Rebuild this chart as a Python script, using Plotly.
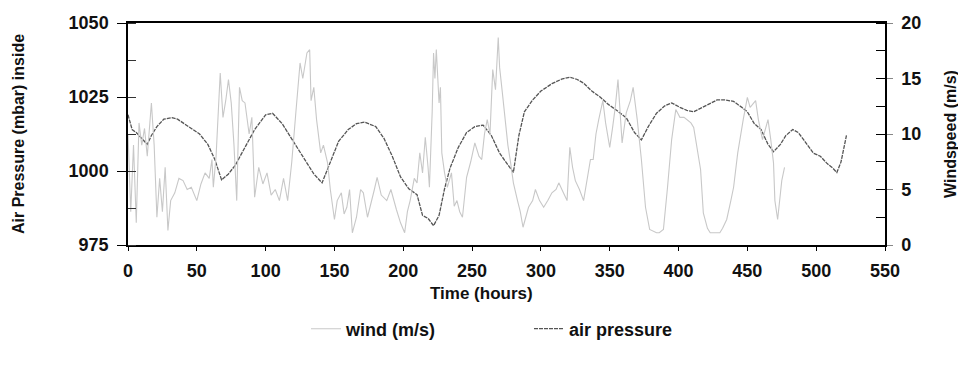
import plotly.graph_objects as go

# ---- data ----
p_hours = [0, 3, 6, 10, 14, 17, 21, 26, 32, 36, 44, 52, 58, 63, 68, 73, 78, 85, 92, 100,
           105, 112, 120, 128, 135, 141, 147, 153, 160, 166, 172, 180, 186, 192, 198, 204,
           210, 214, 218, 222, 226, 230, 234, 240, 246, 252, 258, 264, 270, 276, 280, 284,
           288, 294, 300, 308, 315, 321, 326, 331, 337, 343, 349, 355, 362, 368, 373, 378,
           384, 390, 395, 401, 406, 411, 417, 423, 428, 434, 440, 446, 450, 455, 460, 465,
           469, 474, 478, 483, 487, 491, 498, 503, 508, 512, 515, 518, 522]
pressure = [1019, 1014, 1013, 1011, 1009, 1012, 1015, 1017.5, 1018, 1017.5, 1015, 1012.5,
            1009, 1004, 997, 999, 1002, 1008, 1014, 1019, 1019.5, 1016, 1010, 1004, 999,
            996, 1003, 1010, 1014, 1016, 1016.5, 1015, 1011, 1005, 998, 994, 992, 985, 984,
            981.5, 985, 994, 1001, 1008, 1013, 1015, 1015.5, 1012, 1006, 1002, 999.5, 1012,
            1020, 1024, 1027, 1029.5, 1031, 1031.7, 1031, 1029.7, 1027, 1025, 1022.5, 1020.5,
            1018, 1013, 1010.5, 1015, 1019.5, 1022, 1023, 1021.5, 1020.5, 1020, 1021.5, 1023,
            1024, 1024, 1023.5, 1021.5, 1020, 1016, 1014, 1009, 1006.5, 1009, 1012, 1014,
            1013, 1010.5, 1006, 1005, 1002.5, 1001, 999.5, 1003, 1012]

w_hours = [0, 2, 4, 6, 8, 10, 12, 14, 17, 19, 21, 23, 25, 27, 29, 31, 34, 37, 40, 43, 46,
           50, 53, 56, 59, 61, 62, 64, 67, 69, 71, 73, 75, 77, 79, 81, 83, 85, 88, 90, 92,
           95, 98, 101, 104, 107, 110, 113, 116, 119, 122, 125, 127, 130, 132, 133, 135, 137,
           140, 142, 145, 147, 150, 152, 155, 157, 159, 161, 163, 166, 169, 171, 174, 176,
           179, 181, 184, 188, 191, 195, 198, 201, 203, 205, 208, 210, 212, 214, 216, 218,
           219, 221, 222, 223, 224, 226, 227, 228, 230, 232, 235, 237, 239, 241, 243, 246,
           249, 252, 255, 257, 259, 261, 263, 265, 267, 269, 270, 272, 274, 276, 278, 280,
           283, 285, 287, 289, 291, 294, 296, 299, 302, 305, 308, 311, 313, 316, 319, 321,
           323, 325, 328, 331, 334, 336, 338, 340, 342, 345, 347, 350, 352, 354, 356, 359,
           362, 365, 367, 370, 373, 376, 379, 382, 384, 386, 389, 392, 395, 398, 401, 404,
           406, 409, 411, 414, 416, 418, 421, 423, 427, 430, 432, 435, 438, 440, 443, 445,
           447, 450, 452, 456, 458, 461, 463, 465, 467, 469, 470, 472, 475, 477]
wind = [10, 3, 9, 2, 11, 9, 10.5, 8, 12.8, 9, 2.5, 6, 3, 7, 1.3, 4, 4.7, 6, 5.8, 5, 5.2,
        4, 5.5, 6.5, 6, 7.7, 5.2, 8, 15.5, 11.5, 13, 14.9, 12.8, 9, 4, 14.2, 13, 12.8, 10,
        11.5, 4.3, 7, 5.5, 6.5, 4.5, 5, 4, 6, 4, 7.5, 12, 16.4, 15, 17.3, 17.6, 13, 14.2,
        11.3, 8.3, 9, 7.4, 5, 2.3, 4, 4.7, 2.8, 3.4, 5, 1.1, 2.5, 5, 4.7, 2.5, 3.4, 5, 6.1,
        4.5, 4, 5, 3.2, 2, 1.1, 3, 4, 6, 5.6, 8.3, 6.5, 9.7, 7, 5.2, 12, 17.3, 15, 17.6,
        12.8, 14.2, 8.3, 6.5, 5.2, 6.5, 3.5, 4, 3, 2.5, 6.1, 7.5, 9.2, 8, 7.7, 10, 11.3, 10,
        15.8, 14, 18.7, 16, 13.7, 11.3, 9, 7.4, 5.6, 4, 3, 1.6, 2.5, 3.4, 4, 5, 4, 3.4, 4,
        4.7, 5, 5.6, 4.8, 4, 8.8, 7, 5.8, 5, 4, 6, 7.7, 7.7, 10, 11.3, 13, 11, 8.8, 10.5,
        12.4, 14.9, 9.2, 11.9, 13, 14.2, 11.3, 7.7, 3.4, 1.4, 1.2, 1.1, 1.1, 1.4, 5.2, 9.5,
        12.2, 11.5, 11.5, 11.3, 11, 10.6, 8.5, 6.8, 2.9, 1.5, 1.1, 1.1, 1.1, 1.5, 2.3, 4,
        5.2, 8.3, 10, 11.3, 13.3, 12.4, 13, 11.3, 9.5, 10.5, 11.3, 9.5, 7.4, 4, 2.3, 5.8, 7]

x_ticks = [0, 50, 100, 150, 200, 250, 300, 350, 400, 450, 500, 550]
p_ticks = [975, 1000, 1025, 1050]
w_ticks = [0, 5, 10, 15, 20]

FONT = "Liberation Sans, Arial, sans-serif"
PW = 958 - 128 - 73   # plot width in px
PH = 365 - 23 - 120   # plot height in px

fig = go.Figure()
fig.add_trace(go.Scatter(x=w_hours, y=wind, name="wind (m/s)", yaxis="y2",
                         mode="lines", line=dict(color="#c8c8c8", width=1.1)))
fig.add_trace(go.Scatter(x=p_hours, y=pressure, name="air pressure", yaxis="y",
                         mode="lines", line=dict(color="#555555", width=1.3, dash="4px,1px")))

fig.update_layout(
    width=958, height=365,
    margin=dict(l=128, r=73, t=23, b=120, autoexpand=False),
    paper_bgcolor="white", plot_bgcolor="white",
    font=dict(family=FONT, size=17, color="#111"),
    showlegend=True,
    legend=dict(orientation="h", x=(306 - 128) / PW, xanchor="left",
                y=(245 - 329) / PH, yanchor="middle",
                font=dict(family=FONT, size=18, weight="bold", color="#111"),
                entrywidth=178, traceorder="normal"),
    xaxis=dict(range=[0, 550], tickvals=x_ticks, ticktext=[str(v) for v in x_ticks],
               showline=True, linecolor="black", linewidth=1.5, mirror=True,
               ticks="outside", ticklen=4, tickcolor="black", showgrid=False, zeroline=False,
               ticklabelstandoff=5,
               tickfont=dict(family=FONT, size=18, weight="bold", color="#111")),
    yaxis=dict(range=[975, 1050], tickvals=p_ticks, ticktext=[str(v) for v in p_ticks],
               showline=True, linecolor="black", linewidth=1.5,
               ticks="outside", ticklen=9, tickcolor="black", showgrid=False, zeroline=False,
               ticklabelstandoff=5,
               minor=dict(ticks="inside", ticklen=8, tick0=975, dtick=12.5, tickcolor="#333"),
               tickfont=dict(family=FONT, size=18, weight="bold", color="#111")),
    yaxis2=dict(range=[0, 20], tickvals=w_ticks, ticktext=[str(v) for v in w_ticks],
                overlaying="y", side="right", anchor="x",
                showline=True, linecolor="black", linewidth=1.5,
                ticks="outside", ticklen=6, tickcolor="#888", showgrid=False, zeroline=False,
                ticklabelstandoff=5,
                minor=dict(ticks="inside", ticklen=9, tick0=0, dtick=2.5, tickcolor="black"),
                tickfont=dict(family=FONT, size=18, weight="bold", color="#111")),
    annotations=[
        dict(text="Time (hours)", xref="paper", yref="paper",
             x=(481 - 128) / PW, y=(245 - 293) / PH, xanchor="center", yanchor="middle",
             showarrow=False,
             font=dict(family=FONT, size=17, weight="bold", color="#111")),
        dict(text="Air Pressure (mbar) inside", xref="paper", yref="paper",
             x=(18 - 128) / PW, y=0.5, xanchor="center", yanchor="middle",
             textangle=-90, showarrow=False,
             font=dict(family=FONT, size=16, weight="bold", color="#111")),
        dict(text="Windspeed (m/s)", xref="paper", yref="paper",
             x=1 + (950 - 885) / PW, y=0.5, xanchor="center", yanchor="middle",
             textangle=-90, showarrow=False,
             font=dict(family=FONT, size=16, weight="bold", color="#111")),
    ],
)

fig.write_html("out.html")
